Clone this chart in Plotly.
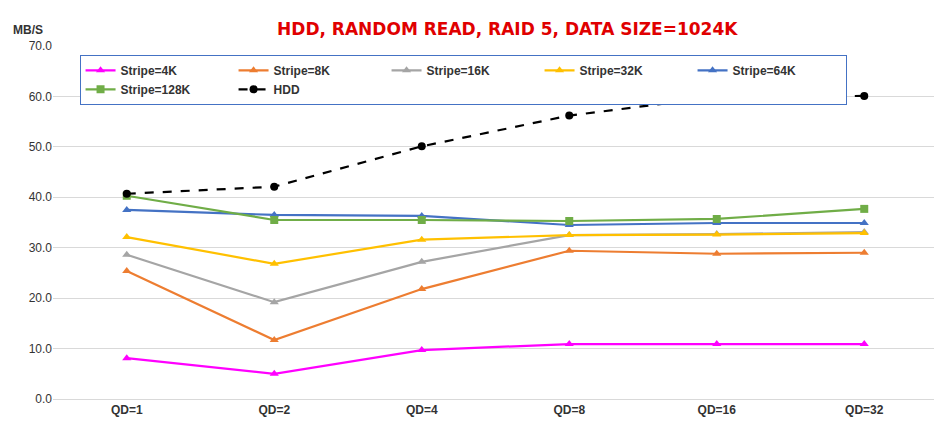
import plotly.graph_objects as go

categories = ["QD=1", "QD=2", "QD=4", "QD=8", "QD=16", "QD=32"]
s4k = [8.1, 5.0, 9.7, 10.9, 10.9, 10.9]
s8k = [25.4, 11.7, 21.8, 29.4, 28.8, 29.0]
s16k = [28.6, 19.2, 27.2, 32.5, 32.7, 33.1]
s32k = [32.1, 26.8, 31.6, 32.5, 32.6, 32.9]
s64k = [37.5, 36.5, 36.3, 34.5, 34.9, 34.9]
s128k = [40.3, 35.5, 35.5, 35.3, 35.7, 37.7]
hdd = [40.7, 42.1, 50.1, 56.2, 59.9, 60.1]

series = [
    ("Stripe=4K", s4k, "#FF00FF", "triangle-up", "solid"),
    ("Stripe=8K", s8k, "#ED7D31", "triangle-up", "solid"),
    ("Stripe=16K", s16k, "#A5A5A5", "triangle-up", "solid"),
    ("Stripe=32K", s32k, "#FFC000", "triangle-up", "solid"),
    ("Stripe=64K", s64k, "#4472C4", "triangle-up", "solid"),
    ("Stripe=128K", s128k, "#70AD47", "square", "solid"),
    ("HDD", hdd, "#000000", "circle", "dash"),
]

fig = go.Figure()
for name, vals, color, sym, dash in series:
    fig.add_trace(go.Scatter(x=categories, y=vals, name=name, mode="lines+markers",
                             line=dict(color=color, width=2.2, dash=dash),
                             marker=dict(symbol=sym, size=8, color=color)))

fig.update_layout(
    width=942, height=425, plot_bgcolor="white", paper_bgcolor="white",
    margin=dict(l=45, r=12, t=38, b=34),
    font=dict(family="Liberation Sans", size=12, color="#333"),
    title=dict(text="<b>HDD, RANDOM READ, RAID 5, DATA SIZE=1024K</b>", x=0.53, y=0.965,
               xanchor="center", font=dict(family="DejaVu Sans", color="#E00000", size=17)),
    legend=dict(orientation="h", x=0.03, y=0.975, xanchor="left", yanchor="top",
                bordercolor="#4472C4", borderwidth=1, bgcolor="white",
                font=dict(size=12, color="#333", family="Liberation Sans"),
                entrywidth=108, entrywidthmode="pixels", itemwidth=30),
    yaxis=dict(range=[0, 70], dtick=10, tickformat=".1f", showgrid=True, gridcolor="#D9D9D9",
               zeroline=False, showline=False, tickfont=dict(size=12, color="#333")),
    xaxis=dict(showgrid=False, range=[-0.5, 5.5], showline=True, linecolor="#D9D9D9",
               tickfont=dict(size=12, color="#333")),
)
for tr in fig.data:
    tr.name = "<b>" + tr.name + "</b>"
fig.add_annotation(text="<b>MB/S</b>", xref="paper", yref="paper", x=-0.048, y=1.07,
                   xanchor="left", showarrow=False, font=dict(size=12, color="#333"))
fig.update_xaxes(ticktext=["<b>" + c + "</b>" for c in categories], tickvals=categories)
fig.write_html("out.html")
